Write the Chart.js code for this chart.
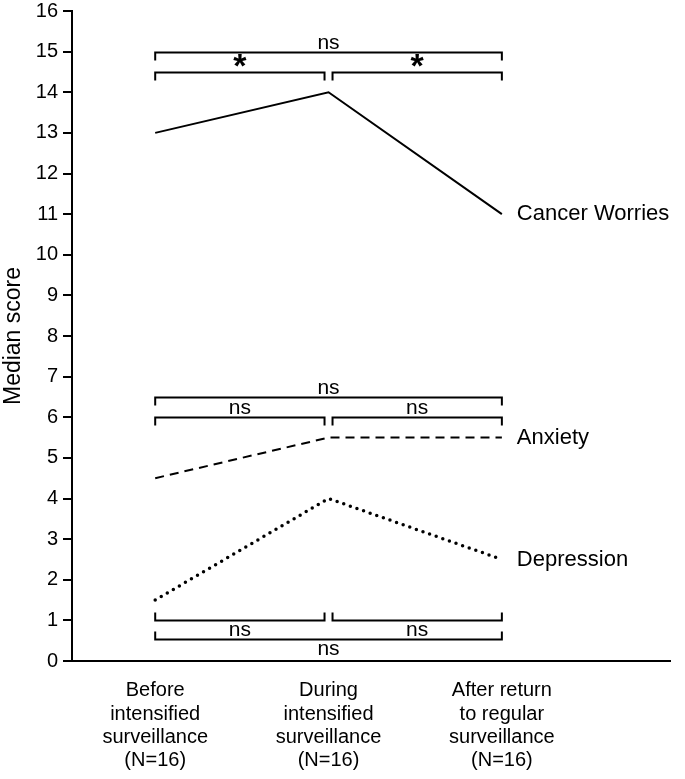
<!DOCTYPE html>
<html lang="en">
<head>
  <meta charset="UTF-8" />
  <title>Median scores during surveillance</title>
  <script src="https://cdn.jsdelivr.net/npm/chart.js"></script>
  <style>
    html, body { margin: 0; padding: 0; background: #fff; }
  </style>
</head>
<body>
  <canvas id="chart" width="685" height="779"></canvas>

  <script>
    // categories (x = 0, 1, 2)
    const periods = [
      ['Before', 'intensified', 'surveillance', '(N=16)'],
      ['During', 'intensified', 'surveillance', '(N=16)'],
      ['After return', 'to regular', 'surveillance', '(N=16)']
    ];
    const seriesNames = ['Cancer Worries', 'Anxiety', 'Depression'];
    const cancerWorries = [13, 14, 11];
    const anxiety = [4.5, 5.5, 5.5];
    const depression = [1.5, 4, 2.5];
    const yMin = 0, yMax = 16, yStep = 1;

    // significance brackets: [from, to, level, label]
    const cwBrackets = [[0, 2, 15, 'ns'], [0, 1, 14.5, '*'], [1, 2, 14.5, '*']];
    const anxBrackets = [[0, 2, 6.5, 'ns'], [0, 1, 6, 'ns'], [1, 2, 6, 'ns']];
    const depBrackets = [[0, 1, 1, 'ns'], [1, 2, 1, 'ns'], [0, 2, 0.55, 'ns']];

    const FONT = '"Liberation Sans", Arial, Helvetica, sans-serif';
    const pts = arr => arr.map((v, i) => ({ x: i, y: v }));

    // brackets + end-of-line labels
    const annotations = {
      id: 'annotations',
      afterDatasetsDraw(chart) {
        const { ctx, scales: { x, y } } = chart;
        ctx.save();
        ctx.strokeStyle = '#000';
        ctx.fillStyle = '#000';
        ctx.lineWidth = 2;

        function drawGroup(list, dir) {
          // dir = 1 -> ticks down, label above; dir = -1 -> ticks up, label below
          list.forEach(([a, b, lvl, label]) => {
            let x1 = x.getPixelForValue(a), x2 = x.getPixelForValue(b);
            if (a === 1) x1 += 4;
            if (b === 1) x2 -= 4;
            const yy = Math.round(y.getPixelForValue(lvl)) + 0.5;
            const t = 8 * dir;
            ctx.beginPath();
            ctx.moveTo(x1, yy + t);
            ctx.lineTo(x1, yy);
            ctx.lineTo(x2, yy);
            ctx.lineTo(x2, yy + t);
            ctx.stroke();
            ctx.textAlign = 'center';
            if (label === '*') {
              ctx.font = 'bold 34px ' + FONT;
              ctx.textBaseline = 'alphabetic';
              ctx.fillText(label, (x1 + x2) / 2, yy + 4);
            } else {
              ctx.font = '21px ' + FONT;
              if (dir > 0) {
                ctx.textBaseline = 'alphabetic';
                ctx.fillText(label, (x1 + x2) / 2, yy - 4);
              } else {
                ctx.textBaseline = 'top';
                ctx.fillText(label, (x1 + x2) / 2, yy - 1);
              }
            }
          });
        }
        drawGroup(cwBrackets, 1);
        drawGroup(anxBrackets, 1);
        drawGroup(depBrackets, -1);

        // series names at the end of each line
        ctx.font = '22px ' + FONT;
        ctx.textAlign = 'left';
        ctx.textBaseline = 'middle';
        [cancerWorries, anxiety, depression].forEach((arr, i) => {
          const last = arr.length - 1;
          ctx.fillText(seriesNames[i], x.getPixelForValue(last) + 15, y.getPixelForValue(arr[last]));
        });
        ctx.restore();
      }
    };

    new Chart(document.getElementById('chart'), {
      type: 'line',
      data: {
        datasets: [
          { label: seriesNames[0], data: pts(cancerWorries), borderColor: '#000', borderWidth: 2, pointRadius: 0, tension: 0 },
          { label: seriesNames[1], data: pts(anxiety), borderColor: '#000', borderWidth: 2, borderDash: [9, 6], pointRadius: 0, tension: 0 },
          { label: seriesNames[2], data: pts(depression), borderColor: '#000', borderWidth: 3.5, borderDash: [0, 7], borderCapStyle: 'round', pointRadius: 0, tension: 0 }
        ]
      },
      options: {
        responsive: false,
        animation: false,
        layout: { padding: { top: 0, right: 15, left: 0, bottom: 0 } },
        plugins: { legend: { display: false }, tooltip: { enabled: false } },
        scales: {
          x: {
            type: 'linear',
            min: -0.48,
            max: 2.97,
            grid: { display: false },
            border: { display: true, color: '#000', width: 2 },
            afterBuildTicks: s => { s.ticks = periods.map((p, i) => ({ value: i })); },
            afterFit: s => { s.height = 118; },
            ticks: {
              autoSkip: false,
              maxRotation: 0,
              padding: 10,
              color: '#000',
              font: { family: FONT, size: 20, lineHeight: 1.17 },
              callback: v => periods[Math.round(v)]
            }
          },
          y: {
            min: yMin,
            max: yMax,
            grid: { drawOnChartArea: false, drawTicks: true, tickLength: 9, color: '#000', lineWidth: 2 },
            border: { display: true, color: '#000', width: 2 },
            afterFit: s => { s.width = 72; s.paddingTop = 11; },
            ticks: { stepSize: yStep, padding: 5, color: '#000', font: { family: FONT, size: 20 } },
            title: { display: true, text: 'Median score', color: '#000', padding: 0, font: { family: FONT, size: 23 } }
          }
        }
      },
      plugins: [annotations]
    });
  </script>
</body>
</html>
